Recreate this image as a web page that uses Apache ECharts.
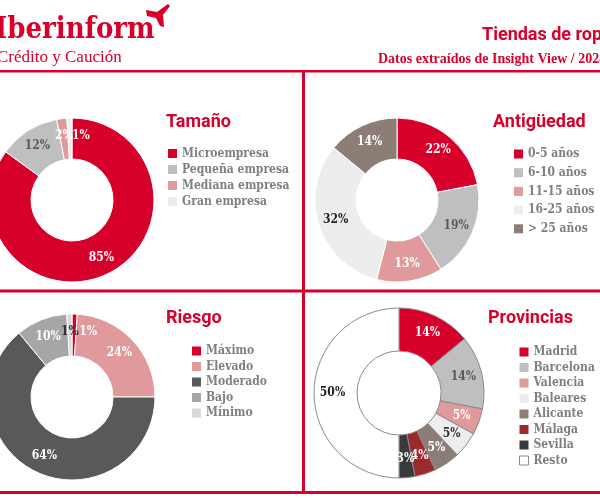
<!DOCTYPE html>
<html>
<head>
<meta charset="utf-8">
<script src="https://cdn.jsdelivr.net/npm/echarts@6/dist/echarts.min.js"></script>
<style>
html,body{margin:0;padding:0;background:#fff;}
#c{width:600px;height:500px;}
</style>
</head>
<body>
<div id="c"></div>
<script>
// ---- data ----
const tamanoCats = ['Microempresa', 'Pequeña empresa', 'Mediana empresa', 'Gran empresa'];
const tamanoVals = [85, 12, 2, 1];
const antigCats = ['0-5 años', '6-10 años', '11-15 años', '16-25 años', '> 25 años'];
const antigVals = [22, 19, 13, 32, 14];
const riesgoCats = ['Máximo', 'Elevado', 'Moderado', 'Bajo', 'Mínimo'];
const riesgoVals = [1, 24, 64, 10, 1];
const provCats = ['Madrid', 'Barcelona', 'Valencia', 'Baleares', 'Alicante', 'Málaga', 'Sevilla', 'Resto'];
const provVals = [14, 14, 5, 5, 5, 4, 3, 50];

// ---- styles ----
const RED = '#d7002b';
const tamanoColors = [RED, '#bfbfbf', '#e09a9b', '#ededed'];
const tamanoLabel = ['#fff', '#595959', '#fff', '#fff'];
const antigColors = [RED, '#bfbfbf', '#e09a9b', '#ededed', '#8c7d77'];
const antigLabel = ['#fff', '#595959', '#fff', '#222', '#fff'];
const riesgoColors = [RED, '#e09a9b', '#595959', '#a6a6a6', '#d9d9d9'];
const riesgoLabel = ['#fff', '#fff', '#fff', '#fff', '#333'];
const provColors = [RED, '#bfbfbf', '#e09a9b', '#ededed', '#8c7d77', '#9c2a2d', '#3a3a3a', '#ffffff'];
const provLabel = ['#fff', '#595959', '#fff', '#333', '#fff', '#fff', '#fff', '#222'];

const SERIF = "'DejaVu Serif Condensed', 'DejaVu Serif', serif";
const SANS = "Roboto, 'Noto Sans', sans-serif";

function buildData(cats, vals, colors, labels, offsets) {
  return cats.map((n, i) => ({
    name: n, value: vals[i],
    itemStyle: { color: colors[i] },
    label: Object.assign({ color: labels[i] }, offsets && offsets[i] ? { offset: offsets[i] } : {})
  }));
}

function pie(center, radius, data, border) {
  return {
    type: 'pie', center: center, radius: radius,
    startAngle: 90, clockwise: true, avoidLabelOverlap: false,
    itemStyle: border,
    label: { show: true, position: 'inside', formatter: '{c}%', fontFamily: SERIF, fontWeight: 'bold', fontSize: 12 },
    labelLine: { show: false },
    labelLayout: { hideOverlap: false },
    emphasis: { disabled: true },
    animation: false,
    data: data
  };
}

function legend(cats, left, top, gap, borderedName) {
  return {
    data: cats.map(n => ({
      name: n,
      itemStyle: n === borderedName ? { borderColor: '#8a8a8a', borderWidth: 1 } : { borderWidth: 0 }
    })),
    orient: 'vertical', left: left, top: top, itemGap: gap, padding: 0, height: 200,
    icon: 'rect', itemWidth: 9, itemHeight: 9,
    textStyle: { fontFamily: SERIF, fontWeight: 'bold', fontSize: 12, color: '#7f7f7f' },
    selectedMode: false
  };
}

function title(text, left, top) {
  return { text: text, left: left, top: top, textStyle: { fontFamily: SANS, fontWeight: 'bold', fontSize: 18, color: RED }, padding: 0 };
}

const chart = echarts.init(document.getElementById('c'), null, { renderer: 'canvas' });
const whiteBorder = { borderColor: '#fff', borderWidth: 1 };
const grayBorder = { borderColor: '#8a8a8a', borderWidth: 1 };

chart.setOption({
  animation: false,
  title: [
    title('Tamaño', 166, 113),
    title('Antigüedad', 493, 113),
    title('Riesgo', 166, 309),
    title('Provincias', 488, 309)
  ],
  legend: [
    legend(tamanoCats, 168, 147.5, 4),
    legend(antigCats, 514, 148, 6.7),
    legend(riesgoCats, 192, 345, 3.5),
    legend(provCats, 519, 346, 3.5, 'Resto')
  ],
  series: [
    pie([72, 200], [41, 82], buildData(tamanoCats, tamanoVals, tamanoColors, tamanoLabel, [null, null, null, [11, 0]]), whiteBorder),
    pie([397, 200], [41, 82], buildData(antigCats, antigVals, antigColors, antigLabel), whiteBorder),
    pie([72, 397], [41, 83], buildData(riesgoCats, riesgoVals, riesgoColors, riesgoLabel, [[14, 0]]), whiteBorder),
    pie([399, 393], [42, 85], buildData(provCats, provVals, provColors, provLabel), grayBorder)
  ],
  graphic: [
    { type: 'text', left: -5, top: 16, style: { text: 'Iberinform', font: "bold 29px 'DejaVu Serif Condensed', 'DejaVu Serif', serif", fill: RED } },
    { type: 'text', left: -3, top: 49, style: { text: 'Crédito y Caución', font: "17px 'Liberation Serif', serif", fill: RED } },
    { type: 'polygon', shape: { points: [[146, 10], [157, 12], [168, 4], [170, 6], [163, 15], [164, 27], [160, 26], [156, 18], [147, 16]] }, style: { fill: RED } },
    { type: 'text', left: 482, top: 26, style: { text: 'Tiendas de ropa', font: "bold 18px Roboto, sans-serif", fill: RED } },
    { type: 'text', left: 378, top: 52, style: { text: 'Datos extraídos de Insight View / 2024', font: "bold 14px 'Liberation Serif', serif", fill: RED } },
    { type: 'rect', shape: { x: 0, y: 70, width: 600, height: 2.5 }, style: { fill: RED } },
    { type: 'rect', shape: { x: 302, y: 71, width: 3, height: 423 }, style: { fill: RED } },
    { type: 'rect', shape: { x: 0, y: 289.5, width: 600, height: 3 }, style: { fill: RED } },
    { type: 'rect', shape: { x: 0, y: 491, width: 600, height: 3 }, style: { fill: RED } }
  ]
});
</script>
</body>
</html>
